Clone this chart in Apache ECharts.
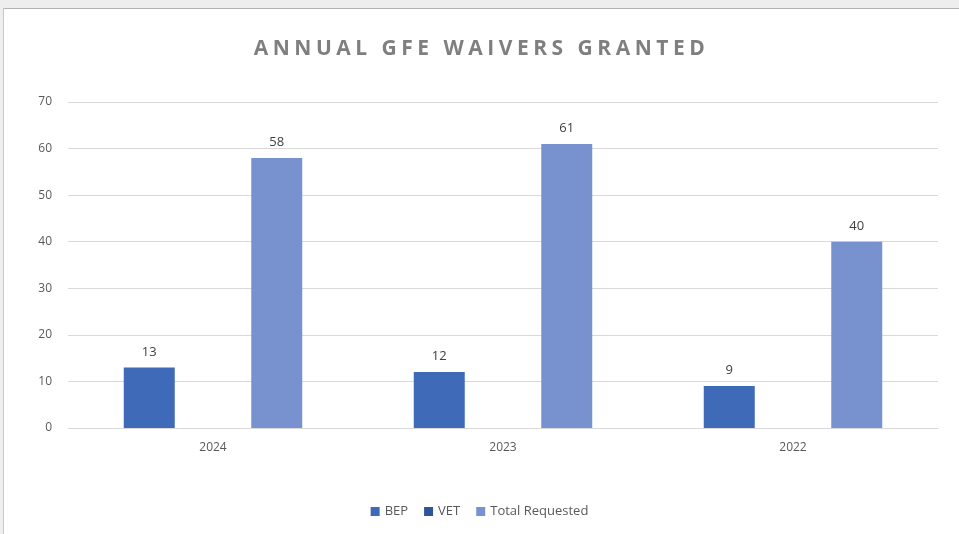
<!DOCTYPE html>
<html>
<head>
<meta charset="utf-8">
<script src="https://cdn.jsdelivr.net/npm/echarts@6/dist/echarts.min.js"></script>
<style>
  html, body { margin: 0; padding: 0; background: #eeeeee; }
  #wrap { position: absolute; left: 3px; top: 8px; width: 956px; height: 526px;
          background: #fff; border-left: 1px solid #c8c8c8; border-top: 1px solid #b4b4b4; box-sizing: border-box; }
  #title { position: absolute; left: 0; right: 0; top: 24px; text-align: center;
           font: 700 21px "Open Sans", sans-serif; letter-spacing: 4.5px; color: #7f7f7f; }
  #bar { position: absolute; left: -4px; top: -9px; width: 959px; height: 534px; }
</style>
</head>
<body>
<div id="wrap">
  <div id="bar"></div>
  <div id="title">ANNUAL GFE WAIVERS GRANTED</div>
</div>
<script>
var years = ['2024', '2023', '2022'];
var bep = [13, 12, 9];
var vet = [null, null, null];
var totalRequested = [58, 61, 40];

var myChart = echarts.init(document.getElementById('bar'));

var label = {
    show: true,
    position: 'top',
    distance: 9,
    color: '#404040',
    fontSize: 13,
    fontFamily: 'Open Sans'
};

myChart.setOption({
    animation: false,
    textStyle: { fontFamily: 'Open Sans' },
    legend: {
        data: ['BEP', 'VET', 'Total Requested'],
        bottom: 11,
        left: 'center',
        icon: 'rect',
        itemWidth: 9,
        itemHeight: 9,
        itemGap: 16,
        textStyle: { color: '#595959', fontSize: 13 }
    },
    grid: {
        left: 68,
        right: 21,
        top: 102,
        bottom: 106,
        containLabel: false
    },
    xAxis: {
        type: 'category',
        data: years,
        axisLine: { lineStyle: { color: '#d9d9d9' } },
        axisTick: { show: false },
        axisLabel: { color: '#595959', fontSize: 12, margin: 14 }
    },
    yAxis: {
        type: 'value',
        min: 0,
        max: 70,
        interval: 10,
        axisLine: { show: false },
        axisTick: { show: false },
        axisLabel: { color: '#595959', fontSize: 12, margin: 16 },
        splitLine: { lineStyle: { color: '#d9d9d9' } }
    },
    series: [{
        name: 'BEP',
        type: 'bar',
        data: bep,
        barWidth: 51,
        barGap: '25%',
        itemStyle: { color: '#3e6ab7' },
        label: label
    }, {
        name: 'VET',
        type: 'bar',
        data: vet,
        barWidth: 51,
        itemStyle: { color: '#2e5596' },
        label: label
    }, {
        name: 'Total Requested',
        type: 'bar',
        data: totalRequested,
        barWidth: 51,
        itemStyle: { color: '#7892d0' },
        label: label
    }]
});
</script>
</body>
</html>
